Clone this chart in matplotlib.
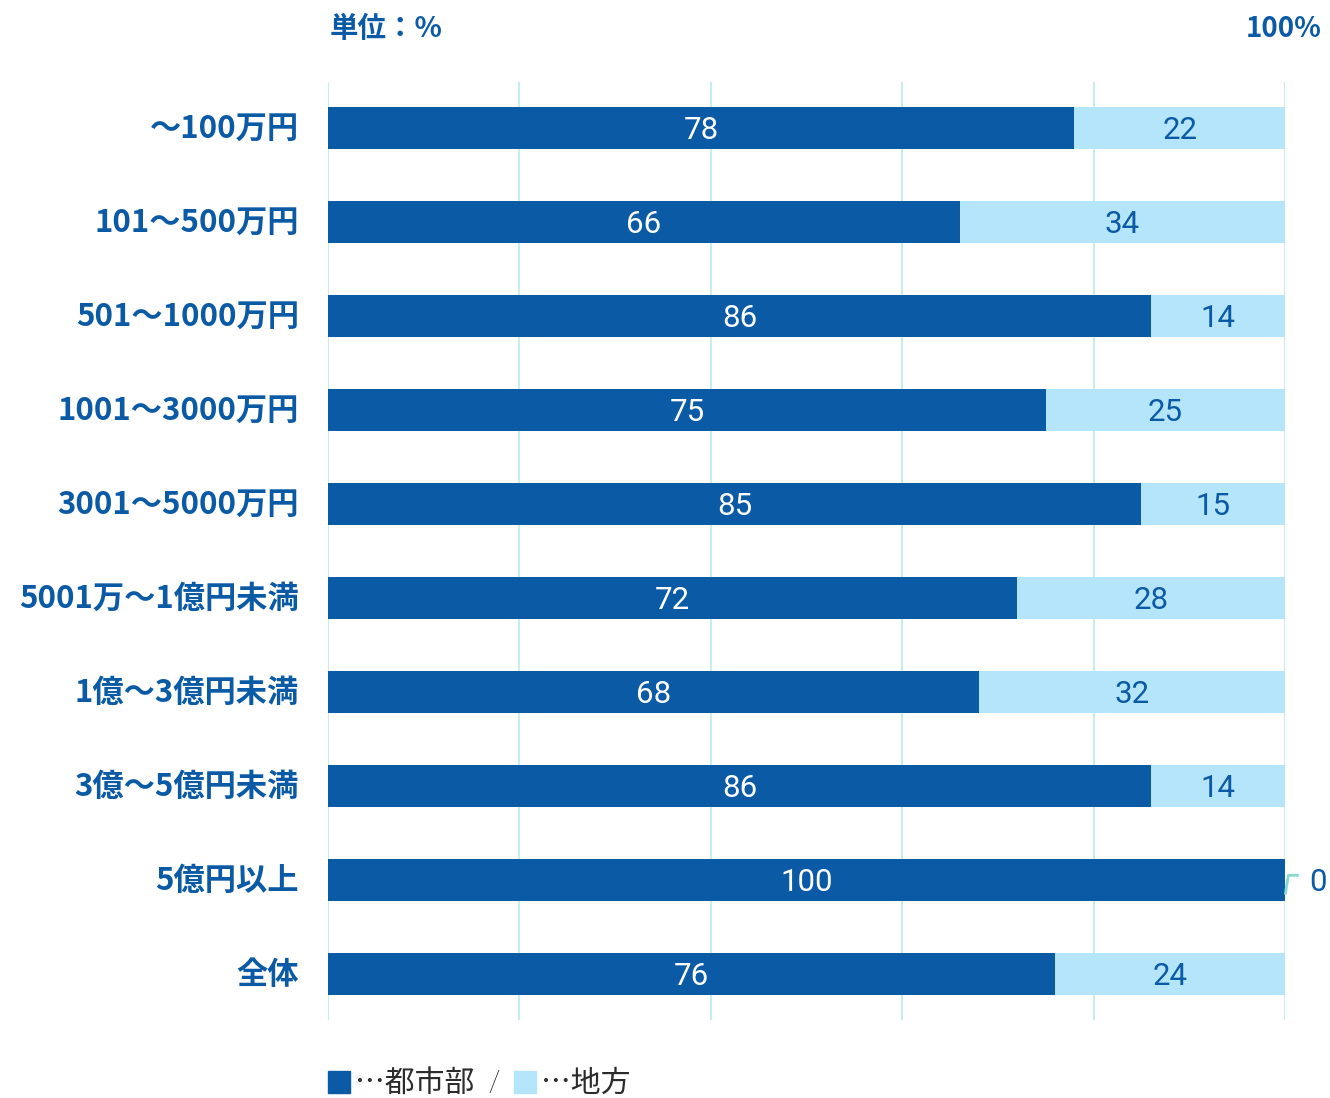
import matplotlib
matplotlib.use("Agg")
import matplotlib.pyplot as plt
import matplotlib.transforms as mtransforms

plt.rcParams['font.family'] = ['Noto Sans CJK JP', 'DejaVu Sans']

categories = ["～100万円", "101～500万円", "501～1000万円", "1001～3000万円",
              "3001～5000万円", "5001万～1億円未満", "1億～3億円未満",
              "3億～5億円未満", "5億円以上", "全体"]
urban = [78, 66, 86, 75, 85, 72, 68, 86, 100, 76]
rural = [22, 34, 14, 25, 15, 28, 32, 14, 0, 24]
x_ticks = [0, 20, 40, 60, 80, 100]

DARK = "#0a5aa5"
LIGHT = "#b5e5fb"
GRID = "#c9ecec"
TEXT = "#0b5aa5"
NUM_FONT = ["Roboto", "DejaVu Sans"]
NUM_SIZE = 22.5

fig = plt.figure(figsize=(13.3, 10.98), dpi=100)
ax = fig.add_axes([328 / 1330, 1 - 1020 / 1098, 957 / 1330, 938 / 1098])

y = list(range(len(categories)))
h = 0.447
ax.barh(y, urban, height=h, color=DARK, zorder=2)
ax.barh(y, rural, left=urban, height=h, color=LIGHT, zorder=2)

dy = 0.03
for i, (u, r) in enumerate(zip(urban, rural)):
    ax.text(u / 2, i + dy, f"{u}", ha="center", va="center",
            color="white", fontsize=NUM_SIZE, family=NUM_FONT, zorder=3)
    if r > 0:
        ax.text(u + r / 2, i + dy, f"{r}", ha="center", va="center",
                color=TEXT, fontsize=NUM_SIZE, family=NUM_FONT, zorder=3)
    else:
        # leader line for a zero-width segment
        ax.plot([100.05, 100.35, 101.3], [i + 0.14, i - 0.05, i - 0.05],
                color="#8ad8d0", lw=2, clip_on=False, zorder=3)
        ax.text(103.4, i + dy, f"{r}", ha="center", va="center",
                color=TEXT, fontsize=NUM_SIZE, family=NUM_FONT, clip_on=False)

ax.set_xlim(0, 100)
ax.set_ylim(len(categories) - 1 + 0.489, -0.489)
ax.set_xticks(x_ticks)
ax.xaxis.grid(True, color=GRID, lw=1.5, zorder=0)
ax.tick_params(axis="x", length=0, labelbottom=False)
ax.tick_params(axis="y", length=0, pad=21)
ax.set_yticks(y)
ax.set_yticklabels(categories, fontsize=22.5, fontweight="bold", color=TEXT)
lift = mtransforms.ScaledTranslation(0, 3 / 100, fig.dpi_scale_trans)
for lab in ax.get_yticklabels():
    lab.set_transform(lab.get_transform() + lift)
for s in ax.spines.values():
    s.set_visible(False)

fig.text(330 / 1330, 1 - 29 / 1098, "単位：%", ha="left", va="center",
         fontsize=20.5, fontweight="bold", color=TEXT)
fig.text(1322 / 1330, 1 - 29 / 1098, "100%", ha="right", va="center",
         fontsize=20, fontweight="bold", color=TEXT)

# legend row
ly = 1 - 1083 / 1098
fig.patches.append(plt.Rectangle((328 / 1330, 1 - 1093 / 1098), 22 / 1330, 22 / 1098,
                                 transform=fig.transFigure, color=DARK, figure=fig))
fig.text(355 / 1330, ly, "…都市部", ha="left", va="center",
         fontsize=21.5, color="#2b2b2b")
fig.text(494 / 1330, ly, "/", ha="center", va="center",
         fontsize=21.5, color="#2b2b2b", family=["Roboto"], fontweight="light")
fig.patches.append(plt.Rectangle((514 / 1330, 1 - 1093 / 1098), 22 / 1330, 22 / 1098,
                                 transform=fig.transFigure, color=LIGHT, figure=fig))
fig.text(541 / 1330, ly, "…地方", ha="left", va="center",
         fontsize=21.5, color="#2b2b2b")

fig.savefig("out.png", dpi=100)
